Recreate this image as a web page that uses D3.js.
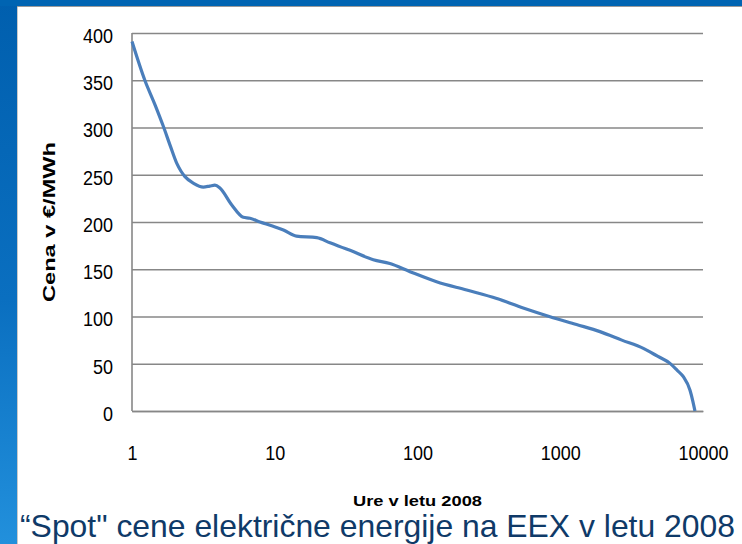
<!DOCTYPE html>
<html>
<head>
<meta charset="utf-8">
<script src="https://cdn.jsdelivr.net/npm/d3@7"></script>
<style>
body{margin:0;background:#fff;}
svg{display:block;}
</style>
</head>
<body>
<div id="chart"></div>
<script>
// hours in year (log axis) and spot price in EUR/MWh
const hours=[1,1.23,1.45,1.66,1.86,2.06,2.2,2.35,2.7,3.16,3.5,3.81,4.13,5,6.02,6.7,7.88,9.5,11.5,14.2,19.7,24.4,33.7,49,64,88.6,136,221,359,550,848,1300,1898,2700,3820,4800,5873,6600,7280,8110,8500,8784];
const prices=[391,350,324,301,280,262,254,248,241,237,238,239,236,218,205,204,200,196,191.5,185,183.4,178,170,160,156,147.4,136.8,128,119,109,99.8,91.5,84,75,66.3,58,50.4,43,36.3,22,10,0];
const yTicks=[0,50,100,150,200,250,300,350,400];
const xTicks=[1,10,100,1000,10000];
const yTitle="Cena v €/MWh";
const xTitle="Ure v letu 2008";
const caption="\u201cSpot\" cene električne energije na EEX v letu 2008";

const W=742,H=544;
const plotL=132,plotR=703,plotT=33,plotB=411;

const svg=d3.select("#chart").append("svg").attr("width",W).attr("height",H);

// slide frame
const defs=svg.append("defs");
const grad=defs.append("linearGradient").attr("id","sideBlue").attr("x1",0).attr("y1",0).attr("x2",0).attr("y2",1);
grad.append("stop").attr("offset","0").attr("stop-color","#005fae");
grad.append("stop").attr("offset","0.55").attr("stop-color","#0a6fc0");
grad.append("stop").attr("offset","1").attr("stop-color","#2290dc");
svg.append("rect").attr("x",0).attr("y",0).attr("width",W).attr("height",H).attr("fill","#fff");
svg.append("rect").attr("x",0).attr("y",0).attr("width",17).attr("height",H).attr("fill","url(#sideBlue)");
svg.append("rect").attr("x",0).attr("y",0).attr("width",W).attr("height",6).attr("fill","#0064b2");
svg.append("line").attr("x1",17.5).attr("x2",17.5).attr("y1",6).attr("y2",H).attr("stroke","#c9c9c9").attr("stroke-width",1);
svg.append("line").attr("x1",17).attr("x2",W).attr("y1",6.5).attr("y2",6.5).attr("stroke","#9a9a9a").attr("stroke-width",1);

const x=d3.scaleLog().domain([1,10000]).range([plotL,plotR]);
const y=d3.scaleLinear().domain([0,400]).range([plotB,plotT]);

// stretch text a bit vertically like the original
function stretch(sel,sy){
    sel.each(function(){
        const t=d3.select(this);
        const tx=+t.attr("x")||0, ty=+t.attr("y")||0;
        t.attr("x",0).attr("y",0).attr("transform",`translate(${tx},${ty}) scale(1,${sy})`);
    });
}

//y axis with gridlines
const gy=svg.append("g").attr("transform",`translate(${plotL},0)`)
    .call(d3.axisLeft(y).tickValues(yTicks).tickSize(-(plotR-plotL)).tickPadding(19));
gy.select(".domain").remove();
gy.selectAll("line").attr("stroke","#878787").attr("stroke-width",1.6);
gy.selectAll("text")
    .attr("font-family","'Liberation Sans',Arial,sans-serif")
    .attr("font-size",18).attr("fill","#000")
    .attr("dy",null).attr("y",9.4);
stretch(gy.selectAll("text"),1.15);

// left axis line
svg.append("line").attr("x1",plotL).attr("x2",plotL).attr("y1",plotT).attr("y2",plotB)
    .attr("stroke","#878787").attr("stroke-width",1.6);

//x axis
const gx=svg.append("g").attr("transform",`translate(0,${plotB})`)
    .call(d3.axisBottom(x).tickValues(xTicks).tickSize(0).tickFormat(d3.format("d")));
gx.select(".domain").attr("stroke","#878787").attr("stroke-width",1.6);
gx.selectAll("text")
    .attr("font-family","'Liberation Sans',Arial,sans-serif")
    .attr("font-size",18).attr("fill","#000")
    .attr("dy",null).attr("y",49);
stretch(gx.selectAll("text"),1.15);

// price curve
const data=hours.map((h,i)=>({h:h,p:prices[i]}));
const line=d3.line().x(d=>x(d.h)).y(d=>y(d.p)).curve(d3.curveMonotoneX);
svg.append("path").datum(data).attr("d",line)
    .attr("fill","none").attr("stroke","#4a7ebb").attr("stroke-width",3.2)
    .attr("stroke-linejoin","round");

// axis titles
svg.append("text")
    .attr("transform",`translate(55,${(plotT+plotB)/2}) rotate(-90)`)
    .attr("text-anchor","middle")
    .attr("font-family","'Liberation Sans',Arial,sans-serif")
    .attr("font-weight","bold").attr("font-size",17)
    .attr("textLength",160).attr("lengthAdjust","spacingAndGlyphs")
    .text(yTitle);

svg.append("text")
    .attr("x",(plotL+plotR)/2).attr("y",506)
    .attr("text-anchor","middle")
    .attr("font-family","'Liberation Sans',Arial,sans-serif")
    .attr("font-weight","bold").attr("font-size",15)
    .attr("textLength",129).attr("lengthAdjust","spacingAndGlyphs")
    .text(xTitle);

// slide caption
svg.append("text")
    .attr("transform","translate(20,537) scale(1,1.15)")
    .attr("font-family","'Liberation Sans',Arial,sans-serif")
    .attr("font-size",28).attr("fill","#0f3a68")
    .attr("textLength",715).attr("lengthAdjust","spacingAndGlyphs")
    .text(caption);
</script>
</body>
</html>
